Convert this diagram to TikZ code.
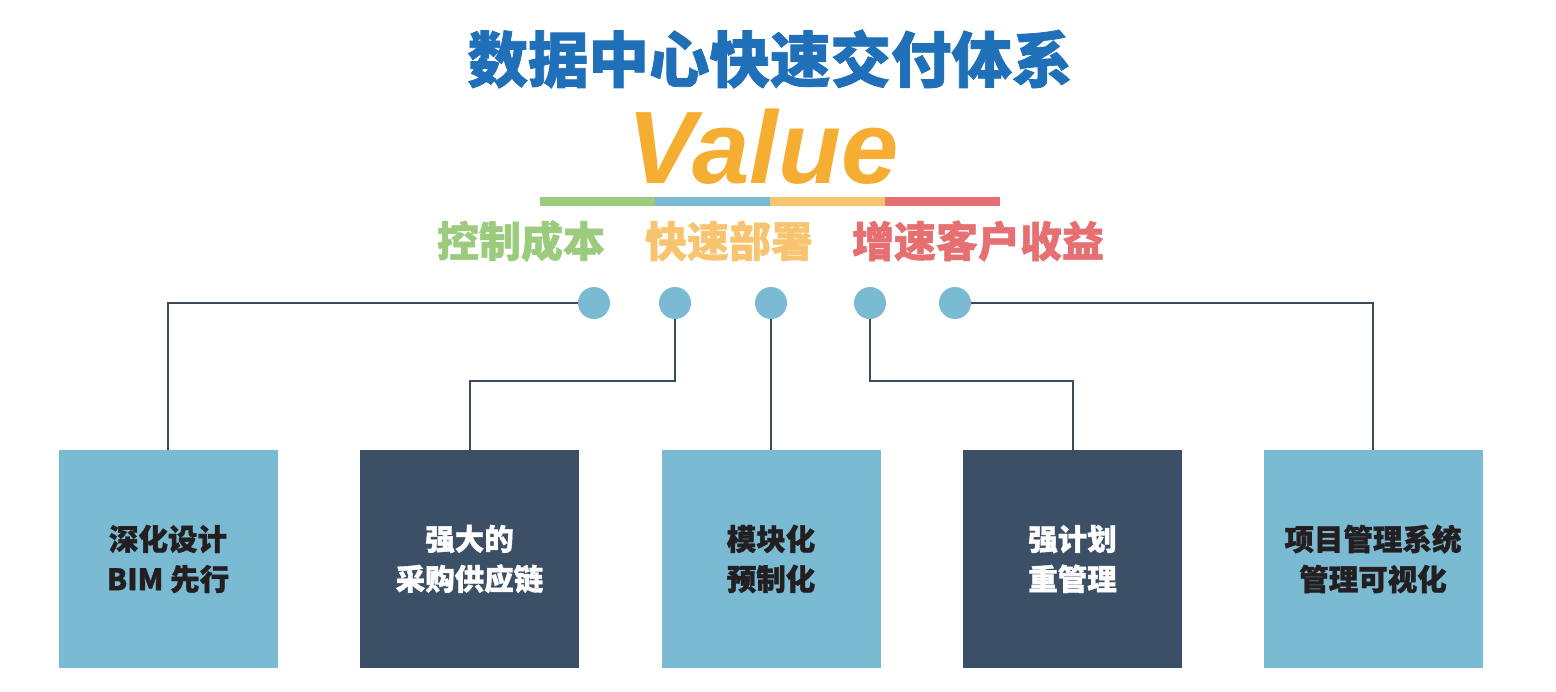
\documentclass[tikz,border=0pt]{standalone}
\usepackage{fontspec}
\newfontfamily\cjkheavy{Noto Sans CJK SC}[BoldFeatures={FakeBold=1.2}]
\newfontfamily\lsans{Liberation Sans}
\definecolor{titleblue}{HTML}{1F70B8}
\definecolor{valorange}{HTML}{F5AE32}
\definecolor{cgreen}{HTML}{9BCB7D}
\definecolor{cblue}{HTML}{79B9D3}
\definecolor{cyellow}{HTML}{F9C46F}
\definecolor{cred}{HTML}{E56F71}
\definecolor{boxlight}{HTML}{7ABAD3}
\definecolor{boxdark}{HTML}{3B4F66}
\definecolor{linecol}{HTML}{3D4A5B}
\definecolor{txtdark}{HTML}{231F20}
\tikzset{
  titlestyle/.style={inner sep=0, text=titleblue, font=\cjkheavy\bfseries\fontsize{60.5}{62}\selectfont},
  valstyle/.style={inner sep=0, text=valorange, font=\lsans\bfseries\itshape\fontsize{103}{103}\selectfont},
  substyle/.style={inner sep=0, font=\cjkheavy\bfseries\fontsize{42}{44}\selectfont},
  dot/.style={circle, fill=boxlight, minimum size=32pt, inner sep=0},
  box/.style={minimum width=219pt, minimum height=218pt, inner sep=0, align=center, font=\cjkheavy\bfseries\fontsize{29.5}{40}\selectfont},
  lightbox/.style={box, fill=boxlight, text=txtdark},
  darkbox/.style={box, fill=boxdark, text=white},
  conn/.style={draw=linecol, line width=2pt}
}
\begin{document}
\begin{tikzpicture}[x=1pt,y=-1pt]
\useasboundingbox (0,0) rectangle (1556,692);
% title
\node[titlestyle] (title) at (770,59) {数据中心快速交付体系};
\node[valstyle, anchor=base] (value) at (763,184) {Value};
% colour bar
\fill[cgreen] (540,197) rectangle (655,206);
\fill[cblue] (655,197) rectangle (770,206);
\fill[cyellow] (770,197) rectangle (885,206);
\fill[cred] (885,197) rectangle (1000,206);
% subtitles
\node[substyle, text=cgreen] (s1) at (521,241) {控制成本};
\node[substyle, text=cyellow] (s2) at (729,241) {快速部署};
\node[substyle, text=cred] (s3) at (978,241) {增速客户收益};
% dots
\node[dot] (c1) at (594,303) {};
\node[dot] (c2) at (675,303) {};
\node[dot] (c3) at (771,303) {};
\node[dot] (c4) at (870,303) {};
\node[dot] (c5) at (955,303) {};
% boxes
\node[lightbox] (b1) at (168,559) {深化设计\\BIM 先行};
\node[darkbox] (b2) at (469.5,559) {强大的\\采购供应链};
\node[lightbox] (b3) at (771,559) {模块化\\预制化};
\node[darkbox] (b4) at (1072.5,559) {强计划\\重管理};
\node[lightbox] (b5) at (1373,559) {项目管理系统\\管理可视化};
% connectors
\coordinate (e2) at (469.5,381);
\coordinate (e4) at (1072.5,381);
\draw[conn] (c1.west) -| (b1.north);
\draw[conn] (c2.south) |- (e2) -- (b2.north);
\draw[conn] (c3.south) -- (b3.north);
\draw[conn] (c4.south) |- (e4) -- (b4.north);
\draw[conn] (c5.east) -| (b5.north);
\end{tikzpicture}
\end{document}
